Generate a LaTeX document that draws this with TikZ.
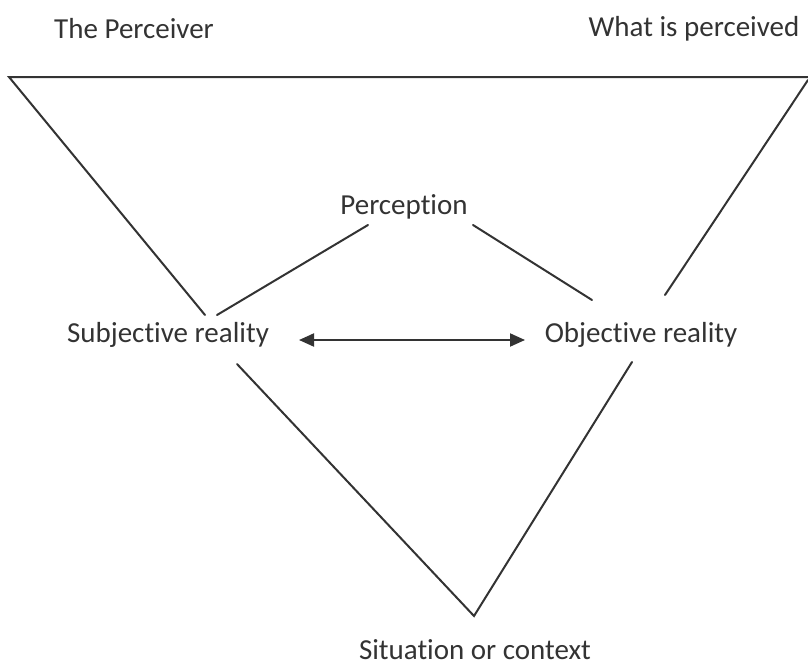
\documentclass[tikz,border=0pt]{standalone}
\usepackage{fontspec}
\setmainfont{Carlito}[Ligatures={NoCommon}]
\usetikzlibrary{arrows.meta}
\definecolor{ink}{HTML}{333333}
\tikzset{
  lbl/.style={font=\fontsize{29}{34}\selectfont, text=ink, inner sep=0pt, anchor=base},
  edge/.style={draw=ink, line width=2pt, line cap=round, line join=miter},
}
\begin{document}
\begin{tikzpicture}[x=1pt,y=-1pt]
\useasboundingbox (0,0) rectangle (808,669);
% labels
\node[lbl] (perc) at (134,38) {The Perceiver};
\node[lbl] (what) at (694,37) {What is perceived};
\node[lbl] (perception) at (404,214) {Perception};
\node[lbl] (subj) at (168,342) {Subjective reality};
\node[lbl] (obj) at (641,342) {Objective reality};
\node[lbl] (sit) at (475,659) {Situation or context};
% geometry points
\coordinate (tl) at (9,77);
\coordinate (tr) at (809,77);
\coordinate (rl) at (808,80);
\coordinate (rb) at (665,295);
\coordinate (lb) at (205,315);
\coordinate (pl1) at (217,315);
\coordinate (pl2) at (368,225);
\coordinate (pr1) at (473,225);
\coordinate (pr2) at (592,300);
\coordinate (vl) at (237,364);
\coordinate (vb) at (474,616);
\coordinate (vr) at (632,362);
\coordinate (al) at (299,340);
\coordinate (ar) at (525,340);
% lines
\draw[edge] (lb) -- (tl) -- (tr);
\draw[edge] (rl) -- (rb);
\draw[edge] (pl1) -- (pl2);
\draw[edge] (pr1) -- (pr2);
\draw[edge] (vl) -- (vb) -- (vr);
\draw[draw=ink, line width=2pt, {Triangle[length=15pt,width=13pt]}-{Triangle[length=15pt,width=13pt]}] (al) -- (ar);
\end{tikzpicture}
\end{document}
